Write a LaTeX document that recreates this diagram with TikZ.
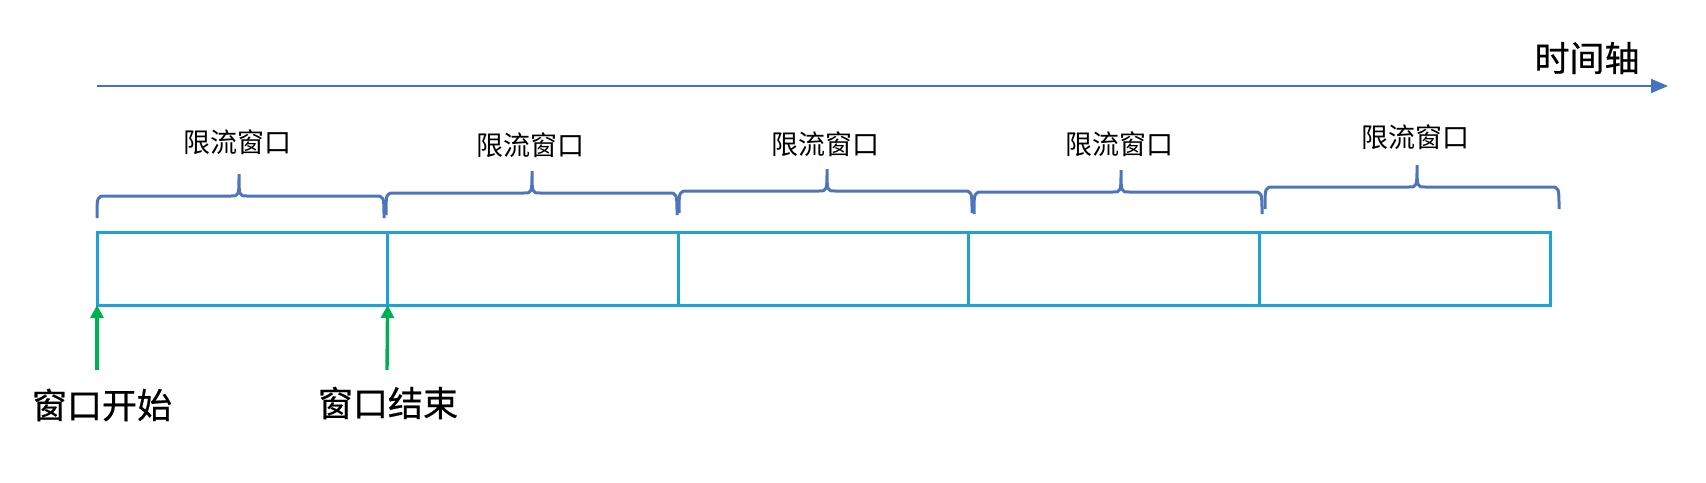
\documentclass[tikz,border=0pt]{standalone}
\usepackage{fontspec}
\setmainfont{Noto Sans CJK SC}
\newfontfamily\heavycjk{Noto Sans CJK SC}[FakeBold=0.6]
\usetikzlibrary{arrows.meta}
\definecolor{axisblue}{HTML}{4472C4}
\definecolor{braceblue}{HTML}{4F74BE}
\definecolor{cellblue}{HTML}{1DA1DB}
\definecolor{markgreen}{HTML}{00B050}

\begin{document}
\begin{tikzpicture}[x=0.5pt, y=-0.5pt,
        cell/.style={draw=cellblue, line width=1.5pt, minimum width=145.3pt,
                minimum height=36.5pt, inner sep=0pt, outer sep=0pt},
        winlabel/.style={font=\fontsize{13.5}{16}\selectfont, inner sep=0pt},
        bigtext/.style={font=\heavycjk\fontsize{17.5}{20}\selectfont, inner sep=0pt},
        winbrace/.style={draw=braceblue, line width=1.5pt},
        markarrow/.style={draw=markgreen, line width=1.7pt,
                -{Triangle[length=6.5pt, width=6.5pt]}}]
        \useasboundingbox (0,0) rectangle (1706,482);

        % time axis
        \coordinate (t0) at (97,86);
        \coordinate (t1) at (1668,86);
        \draw[axisblue, line width=1pt, -{Triangle[length=8.5pt, width=7pt]}] (t0) -- (t1);
        \node[bigtext] (axis) at (1587,58) {时间轴};

        % windows
        \foreach \i in {1,...,5}
                \node[cell] (w\i) at ({97+290.6*(\i-0.5)}, 268.5) {};

        % braces with labels
        \foreach \xl/\xr/\xt/\yb/\ly [count=\i] in
                {97/384/239/196/142, 386/677/532/193/145, 679/972/827/191/144,
                 974/1262/1121/192/144, 1265/1559/1417/187/137}
        {
                \draw[winbrace] (\xl,\yb+22) .. controls (\xl,\yb) .. (\xl+9,\yb)
                        -- (\xt-8,\yb) .. controls (\xt,\yb) .. (\xt,\yb-22)
                        .. controls (\xt,\yb) .. (\xt+8,\yb)
                        -- (\xr-9,\yb) .. controls (\xr,\yb) .. (\xr,\yb+22);
                \node[winlabel] (lbl\i) at (\xt-2,\ly) {限流窗口};
        }

        % start and end of window
        \node[bigtext] (start) at (102,405) {窗口开始};
        \node[bigtext] (end) at (388,403) {窗口结束};
        \coordinate (s0) at (97,370);
        \coordinate (s1) at (387,370);
        \draw[markarrow] (s0) -- (w1.south west);
        \draw[markarrow] (s1) -- (w1.south east);
\end{tikzpicture}
\end{document}
